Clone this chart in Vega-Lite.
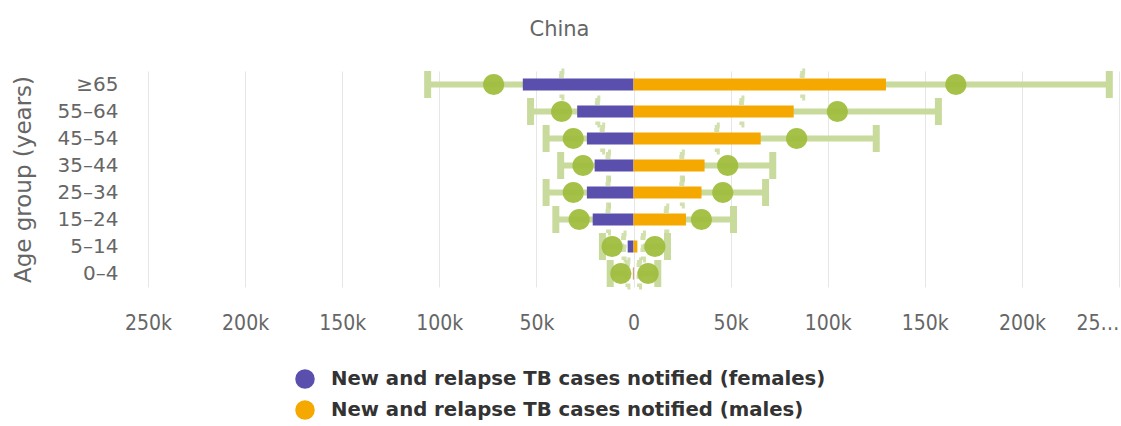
{
  "$schema": "https://vega.github.io/schema/vega-lite/v6.json",
  "autosize": {"type": "none"},
  "width": 971,
  "height": 216,
  "padding": {"left": 148, "top": 71, "right": 2, "bottom": 139},
  "background": "#ffffff",
  "title": {
    "text": "China",
    "font": "DejaVu Sans",
    "fontSize": 21,
    "fontWeight": "normal",
    "color": "#666666",
    "anchor": "middle",
    "dx": -74,
    "offset": 29
  },
  "data": {
    "values": [
      {"age": "≥65", "series": "New and relapse TB cases notified (females)", "notified": -57000, "est": -72000, "lo": -37000, "hi": -106000},
      {"age": "55–64", "series": "New and relapse TB cases notified (females)", "notified": -29000, "est": -37000, "lo": -18500, "hi": -53000},
      {"age": "45–54", "series": "New and relapse TB cases notified (females)", "notified": -24000, "est": -31000, "lo": -16000, "hi": -45000},
      {"age": "35–44", "series": "New and relapse TB cases notified (females)", "notified": -20000, "est": -26000, "lo": -13000, "hi": -37500},
      {"age": "25–34", "series": "New and relapse TB cases notified (females)", "notified": -24000, "est": -31000, "lo": -13000, "hi": -45000},
      {"age": "15–24", "series": "New and relapse TB cases notified (females)", "notified": -21000, "est": -28000, "lo": -13000, "hi": -40000},
      {"age": "5–14", "series": "New and relapse TB cases notified (females)", "notified": -3000, "est": -11000, "lo": -5000, "hi": -16000},
      {"age": "0–4", "series": "New and relapse TB cases notified (females)", "notified": -300, "est": -6500, "lo": -3000, "hi": -12000},
      {"age": "≥65", "series": "New and relapse TB cases notified (males)", "notified": 130000, "est": 166000, "lo": 87000, "hi": 245000},
      {"age": "55–64", "series": "New and relapse TB cases notified (males)", "notified": 82500, "est": 105000, "lo": 55700, "hi": 157000},
      {"age": "45–54", "series": "New and relapse TB cases notified (males)", "notified": 65500, "est": 84000, "lo": 43000, "hi": 125000},
      {"age": "35–44", "series": "New and relapse TB cases notified (males)", "notified": 36600, "est": 48500, "lo": 25000, "hi": 71700},
      {"age": "25–34", "series": "New and relapse TB cases notified (males)", "notified": 35000, "est": 46000, "lo": 25000, "hi": 68000},
      {"age": "15–24", "series": "New and relapse TB cases notified (males)", "notified": 27000, "est": 35000, "lo": 17000, "hi": 51500},
      {"age": "5–14", "series": "New and relapse TB cases notified (males)", "notified": 2000, "est": 11000, "lo": 5000, "hi": 17500},
      {"age": "0–4", "series": "New and relapse TB cases notified (males)", "notified": 300, "est": 7500, "lo": 3000, "hi": 12500}
    ]
  },
  "encoding": {
    "y": {
      "field": "age",
      "type": "nominal",
      "sort": ["≥65", "55–64", "45–54", "35–44", "25–34", "15–24", "5–14", "0–4"],
      "scale": {"paddingInner": 0, "paddingOuter": 0},
      "axis": {
        "title": "Age group (years)",
        "titleFont": "DejaVu Sans",
        "titleFontSize": 23,
        "titleFontWeight": "normal",
        "titleColor": "#666666",
        "titlePadding": 22,
        "labelFont": "DejaVu Sans",
        "labelFontSize": 20,
        "labelColor": "#666666",
        "labelPadding": 30,
        "ticks": false,
        "domain": false,
        "grid": false
      }
    }
  },
  "layer": [
    {
      "mark": {"type": "rule", "color": "#c9da9d", "strokeWidth": 6},
      "encoding": {
        "x": {
          "field": "lo",
          "type": "quantitative",
          "scale": {"domain": [-250000, 250000], "nice": false},
          "axis": {
            "title": null,
            "values": [-250000, -200000, -150000, -100000, -50000, 0, 50000, 100000, 150000, 200000, 250000],
            "labelExpr": "datum.value >= 250000 ? '25…' : format(abs(datum.value), '~s')",
            "labelAlign": {"condition": {"test": "datum.value >= 250000", "value": "right"}, "value": "center"},
            "labelFont": "DejaVu Sans Condensed",
            "labelFontSize": 21,
            "labelColor": "#666666",
            "labelPadding": 25,
            "labelFlush": false,
            "labelOverlap": false,
            "ticks": false,
            "domain": false,
            "grid": true,
            "gridColor": "#e6e6e6",
            "gridWidth": 1
          }
        },
        "x2": {"field": "hi"}
      }
    },
    {
      "mark": {"type": "tick", "color": "#c9da9d", "thickness": 7, "size": 27, "opacity": 1},
      "encoding": {
        "x": {"field": "hi", "type": "quantitative"}
      }
    },
    {
      "mark": {"type": "tick", "filled": false, "thickness": 0.5, "size": 27, "stroke": "#c9da9d", "strokeWidth": 5, "strokeDash": [4, 8], "opacity": 0.85},
      "encoding": {
        "x": {"field": "lo", "type": "quantitative"}
      }
    },
    {
      "mark": {"type": "bar", "size": 12},
      "encoding": {
        "x": {"field": "notified", "type": "quantitative"},
        "color": {
          "field": "series",
          "type": "nominal",
          "scale": {
            "domain": ["New and relapse TB cases notified (females)", "New and relapse TB cases notified (males)"],
            "range": ["#5b4fae", "#f5a800"]
          },
          "legend": {
            "title": null,
            "orient": "none",
            "legendX": 147,
            "legendY": 298,
            "direction": "vertical",
            "symbolType": "circle",
            "symbolSize": 380,
            "symbolStrokeWidth": 0,
            "symbolOpacity": 1,
            "labelFont": "DejaVu Sans",
            "labelFontSize": 19.7,
            "labelFontWeight": "bold",
            "labelColor": "#333333",
            "labelLimit": 700,
            "labelOffset": 16,
            "rowPadding": 11
          }
        }
      }
    },
    {
      "mark": {"type": "point", "filled": true, "shape": "circle", "size": 450, "color": "#a0be3e", "opacity": 0.95},
      "encoding": {
        "x": {"field": "est", "type": "quantitative"}
      }
    }
  ],
  "config": {
    "view": {"stroke": null}
  }
}
